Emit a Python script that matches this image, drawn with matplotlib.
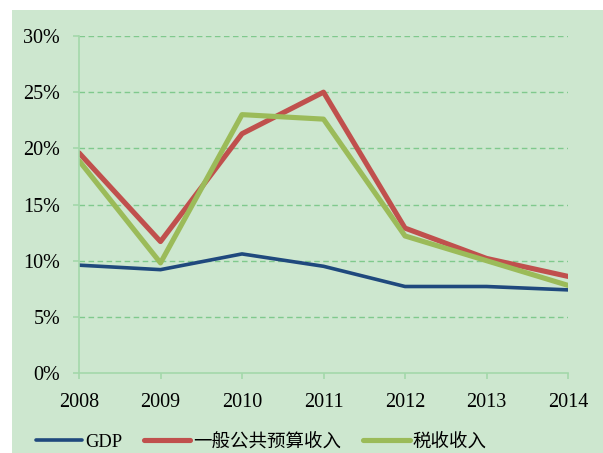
import matplotlib.pyplot as plt
from matplotlib.patches import Rectangle
from matplotlib.ticker import FuncFormatter

plt.rcParams["font.family"] = ["Liberation Serif", "Noto Sans CJK SC"]

years = [2008, 2009, 2010, 2011, 2012, 2013, 2014]
gdp = [9.6, 9.2, 10.6, 9.5, 7.7, 7.7, 7.4]
budget = [19.6, 11.7, 21.3, 25.0, 12.9, 10.2, 8.6]
tax = [18.9, 9.8, 23.0, 22.6, 12.2, 10.0, 7.8]
labels = ["GDP", "一般公共预算收入", "税收收入"]
yticks = [0, 5, 10, 15, 20, 25, 30]

BG = "#cde7cf"
GRID = "#80c98d"
AXIS = "#a3d8aa"

fig = plt.figure(figsize=(6.03, 4.53), dpi=100)
fig.patch.set_facecolor("white")
fig.patches.append(Rectangle((12 / 603, 0), 1 - 12 / 603, 1 - 10 / 453,
                             transform=fig.transFigure, facecolor=BG,
                             edgecolor="none", zorder=-10))

ax = fig.add_axes([79 / 603, 80 / 453, 489 / 603, 337 / 453])
ax.set_facecolor("none")

ax.plot(years, gdp, color="#1f497d", lw=2.6, label=labels[0], solid_capstyle="round")
ax.plot(years, budget, color="#c0504d", lw=3.7, label=labels[1], solid_capstyle="round")
ax.plot(years, tax, color="#9bbb59", lw=3.7, label=labels[2], solid_capstyle="round")

ax.set_xlim(2008, 2014)
ax.set_ylim(0, 30)
ax.set_xticks(years)
ax.set_yticks(yticks)
ax.yaxis.set_major_formatter(FuncFormatter(lambda v, p: f"{v:.0f}%"))

for y in yticks[1:]:
    ax.axhline(y, color=GRID, lw=1.0, ls=(0, (4, 2.5)), zorder=0.5)

for side in ["top", "right"]:
    ax.spines[side].set_visible(False)
for side in ["left", "bottom"]:
    ax.spines[side].set_color(AXIS)
    ax.spines[side].set_linewidth(1.2)

ax.tick_params(axis="both", colors=AXIS, labelcolor="black", labelsize=14.5,
               length=4.5, width=1.2, direction="out")
ax.tick_params(axis="x", pad=10)
ax.tick_params(axis="y", pad=9)

leg = fig.legend(loc="center left", bbox_to_anchor=(36 / 603, 11 / 453),
                 ncol=3, frameon=False, fontsize=13.3, handlelength=2.5,
                 handletextpad=0.15, columnspacing=1.2, borderpad=0,
                 borderaxespad=0)

fig.savefig("out.png", dpi=100, facecolor=fig.get_facecolor())
